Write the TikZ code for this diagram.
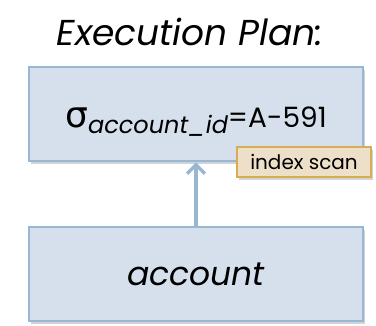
\documentclass[tikz,border=0pt]{standalone}
\usepackage{fontspec}
\setmainfont{Poppins}
\newfontfamily\greekfont{DejaVu Sans}
\usetikzlibrary{arrows.meta, positioning, shadows}
\definecolor{boxfill}{RGB}{214,224,236}
\definecolor{boxline}{RGB}{152,183,212}
\definecolor{tagfill}{RGB}{238,224,200}
\definecolor{tagline}{RGB}{214,172,84}

\begin{document}
\begin{tikzpicture}[x=1pt, y=-1pt,
    opbox/.style={rectangle, draw=boxline, line width=2.5pt, fill=boxfill, minimum width=334pt, minimum height=94pt, align=center, drop shadow={shadow xshift=2pt, shadow yshift=-3pt, opacity=0.35}},
    tag/.style={rectangle, draw=tagline, line width=2pt, fill=tagfill, minimum width=134pt, minimum height=30pt, inner sep=0pt, font=\fontsize{20}{24}\selectfont, drop shadow={shadow xshift=2pt, shadow yshift=-3pt, opacity=0.35}},
    arrow/.style={-{Straight Barb[length=9pt, width=18pt, line width=3.5pt]}, line width=4pt, draw=boxline}
]
\useasboundingbox (0,0) rectangle (376,325);
\node[font=\fontsize{36}{42}\selectfont\itshape] (title) at (190,32) {Execution Plan:};
\node[opbox, text height=36pt, text depth=10pt] (sel) at (196,114) {\fontsize{28}{34}\selectfont{\fontsize{36}{40}\greekfont σ}\raisebox{-6pt}{\fontsize{24}{28}\selectfont\itshape account\_id}=A-591};
\node[opbox] (rel) at (196,274) {\fontsize{33}{38}\selectfont\itshape account};
\node[tag] (scan) at (304,162) {index scan};

\draw[arrow] (rel) -- (sel);
\end{tikzpicture}
\end{document}
